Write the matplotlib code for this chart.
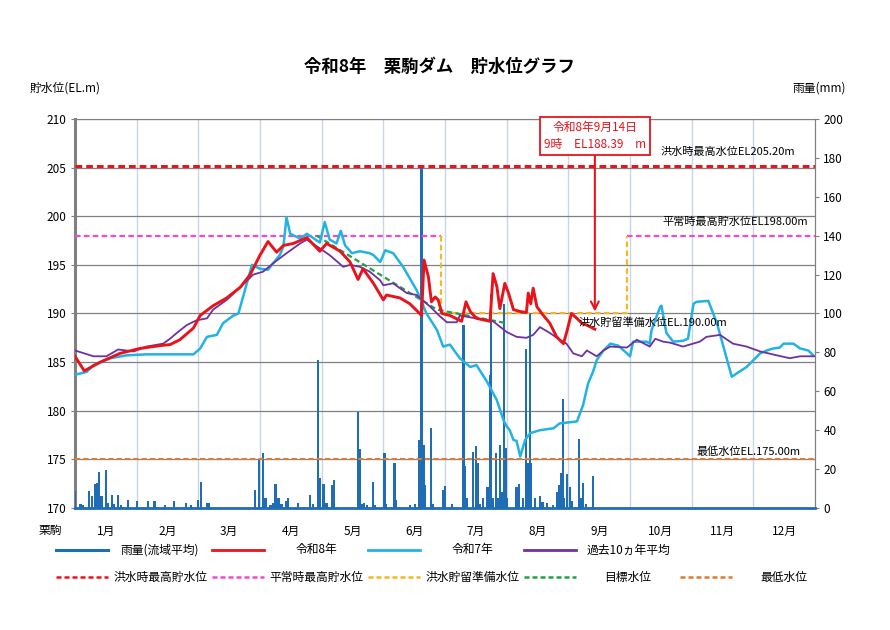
import matplotlib
matplotlib.use("Agg")
import matplotlib.pyplot as plt
import numpy as np

plt.rcParams['font.family'] = ['Noto Sans CJK JP', 'DejaVu Sans']

# x 軸は月単位 (0 = 1月1日, 12 = 12月末)
months = [f"{i}月" for i in range(1, 13)]

# 令和8年 貯水位
r8_x = [0.00, 0.15, 0.41, 0.73, 1.05, 1.38, 1.54, 1.70, 1.92, 2.03,
        2.24, 2.46, 2.68, 2.84, 3.00, 3.13, 3.27, 3.38, 3.54, 3.76,
        3.97, 4.08, 4.30, 4.46, 4.59, 4.67, 4.84, 5.00, 5.05, 5.27,
        5.43, 5.62, 5.66, 5.73, 5.78, 5.84, 5.89, 5.95, 6.08, 6.27,
        6.34, 6.41, 6.51, 6.73, 6.78, 6.84, 6.89, 6.97, 7.03, 7.11,
        7.22, 7.32, 7.35, 7.39, 7.43, 7.49, 7.57, 7.70, 7.81, 7.92,
        7.97, 8.05, 8.14, 8.22, 8.30, 8.43]
r8_el = [185.6, 184.1, 185.0, 185.9, 186.4, 186.7, 186.8, 187.3, 188.5, 189.8,
         190.8, 191.6, 192.7, 194.0, 196.0, 197.4, 196.3, 197.0, 197.2, 197.8,
         196.4, 197.2, 196.4, 195.3, 193.5, 194.6, 193.1, 191.4, 191.9, 191.6,
         191.0, 189.8, 195.5, 193.8, 191.2, 191.7, 191.4, 190.0, 189.8, 189.2,
         191.2, 190.2, 189.5, 189.2, 194.1, 192.8, 190.5, 193.1, 192.1, 190.4,
         190.2, 190.1, 192.1, 191.0, 192.6, 190.7, 190.0, 189.0, 187.6, 186.9,
         188.0, 190.0, 189.5, 189.0, 188.8, 188.39]

# 令和7年 貯水位
r7_x = [0.00, 0.19, 0.30, 0.57, 0.84, 1.16, 1.54, 1.92, 2.03, 2.14,
        2.30, 2.40, 2.57, 2.65, 2.87, 3.00, 3.13, 3.32, 3.38, 3.43,
        3.49, 3.65, 3.76, 3.97, 4.05, 4.13, 4.24, 4.31, 4.38, 4.49,
        4.62, 4.78, 4.84, 4.95, 5.03, 5.16, 5.32, 5.54, 5.70, 5.87,
        5.97, 6.08, 6.24, 6.41, 6.51, 6.68, 6.84, 6.95, 7.00, 7.05,
        7.11, 7.16, 7.22, 7.30, 7.38, 7.54, 7.76, 7.86, 8.14, 8.24,
        8.32, 8.40, 8.46, 8.57, 8.68, 8.81, 8.95, 9.00, 9.05, 9.27,
        9.32, 9.35, 9.49, 9.51, 9.59, 9.70, 9.86, 9.94, 10.03, 10.08,
        10.27, 10.41, 10.65, 10.89, 11.11, 11.22, 11.32, 11.43, 11.49, 11.65,
        11.76, 11.89, 11.97]
r7_el = [183.7, 184.0, 184.7, 185.4, 185.7, 185.8, 185.8, 185.8, 186.4, 187.6,
         187.8, 189.0, 189.8, 190.0, 195.0, 194.6, 194.5, 196.0, 196.9, 199.9,
         198.2, 197.7, 198.2, 197.3, 199.4, 197.6, 197.2, 198.5, 197.0, 196.2,
         196.4, 196.2, 196.0, 195.3, 196.5, 196.2, 194.8, 192.4, 190.0, 188.3,
         186.6, 186.8, 185.4, 184.5, 184.7, 183.0, 181.1, 179.0, 178.4, 178.0,
         177.0, 176.9, 175.3, 177.0, 177.7, 178.0, 178.2, 178.7, 178.9, 180.6,
         182.8, 184.0, 185.2, 186.2, 186.9, 186.7, 185.9, 185.6, 187.1, 187.1,
         186.9, 188.3, 190.7, 190.8, 188.0, 187.1, 187.2, 187.4, 191.0, 191.2,
         191.3, 189.0, 183.5, 184.5, 185.9, 186.2, 186.4, 186.5, 186.9, 186.9,
         186.4, 186.2, 185.7]

# 過去10ヵ年平均
avg_x = [0.00, 0.30, 0.51, 0.70, 0.95, 1.16, 1.43, 1.54, 1.65, 1.81,
         1.97, 2.14, 2.24, 2.46, 2.68, 2.89, 3.05, 3.22, 3.43, 3.65,
         3.76, 3.97, 4.13, 4.35, 4.46, 4.62, 4.78, 4.95, 5.00, 5.16,
         5.38, 5.54, 5.76, 5.92, 6.03, 6.19, 6.24, 6.41, 6.62, 6.78,
         7.00, 7.16, 7.32, 7.43, 7.54, 7.70, 7.86, 7.97, 8.08, 8.22,
         8.30, 8.46, 8.57, 8.68, 8.95, 9.11, 9.32, 9.41, 9.54, 9.65,
         9.86, 10.13, 10.24, 10.46, 10.67, 10.89, 11.11, 11.38, 11.59, 11.76,
         12.00]
avg_el = [186.2, 185.6, 185.6, 186.3, 186.1, 186.6, 186.9, 187.4, 188.0, 188.8,
          189.3, 189.5, 190.4, 191.4, 192.7, 194.0, 194.3, 195.2, 196.2, 197.2,
          197.6, 196.7, 196.0, 194.8, 195.0, 194.8, 194.3, 193.4, 192.9, 193.1,
          192.1, 191.9, 190.7, 189.7, 189.1, 189.1, 189.8, 189.6, 189.4, 189.2,
          188.1, 187.6, 187.5, 187.8, 188.6, 188.0, 187.3, 186.9, 185.9, 185.6,
          186.2, 185.6, 186.2, 186.6, 186.5, 187.3, 186.6, 187.4, 187.1, 187.0,
          186.6, 187.1, 187.6, 187.8, 186.9, 186.6, 186.1, 185.7, 185.4, 185.6,
          185.6]

# 目標水位
target_x = [3.92, 5.87, 7.00]
target_el = [198.0, 190.4, 189.0]

# 雨量(流域平均) mm
rain_x = [0.00, 0.09, 0.13, 0.23, 0.28, 0.32, 0.36, 0.39, 0.43, 0.50,
          0.54, 0.60, 0.63, 0.70, 0.75, 0.86, 1.01, 1.19, 1.29, 1.46,
          1.61, 1.80, 1.88, 2.00, 2.04, 2.14, 2.17, 2.92, 2.98, 3.05,
          3.09, 3.17, 3.22, 3.25, 3.30, 3.35, 3.43, 3.46, 3.61, 3.81,
          3.86, 3.94, 3.97, 4.03, 4.08, 4.17, 4.20, 4.59, 4.62, 4.65,
          4.69, 4.73, 4.83, 4.86, 5.02, 5.04, 5.18, 5.21, 5.43, 5.51,
          5.58, 5.62, 5.65, 5.68, 5.77, 5.81, 5.97, 6.00, 6.11, 6.30,
          6.32, 6.35, 6.46, 6.50, 6.53, 6.56, 6.62, 6.69, 6.73, 6.75,
          6.78, 6.83, 6.86, 6.89, 6.92, 6.96, 6.99, 7.01, 7.16, 7.20,
          7.26, 7.31, 7.34, 7.38, 7.40, 7.46, 7.54, 7.58, 7.65, 7.75,
          7.81, 7.85, 7.88, 7.91, 7.93, 7.98, 8.03, 8.05, 8.17, 8.20,
          8.24, 8.29, 8.40]
rain_mm = [8.5, 2, 1.5, 8.5, 6, 12.5, 13, 18.3, 6, 19.3,
           2.5, 6.5, 2, 6.5, 1.5, 4, 3.4, 3.4, 3.4, 1.5,
           3.4, 2.5, 1.5, 4, 13.4, 2.5, 2.5, 9.4, 25.3, 28.3,
           5, 1.5, 2.5, 12.5, 5, 2, 3.4, 5, 2.5, 6.5,
           2, 75.9, 15.4, 12.5, 2.5, 11.6, 14.2, 49.4, 30.5, 2,
           2.5, 1.5, 13.4, 1.5, 28.3, 2, 23, 4, 1.5, 2,
           35.1, 176, 32.5, 12, 41.1, 2, 9.4, 11.4, 2, 94,
           21.4, 5, 29, 32, 23, 2, 5, 11, 68.4, 110,
           5, 28.3, 5, 32.5, 8, 105, 30.8, 5, 11, 12.2,
           5, 81.5, 23, 100, 23, 5, 6, 3, 2.5, 1.5,
           8.2, 11.7, 18, 56, 5, 17.5, 11, 3.5, 35.5, 5,
           12.7, 2, 16.7]

flood_max = 205.2      # 洪水時最高水位
normal_max = 198.0     # 平常時最高貯水位
flood_ready = 190.0    # 洪水貯留準備水位
lowest = 175.0         # 最低水位
ready_start, ready_end = 5.93, 8.95

c_rain = '#1f6db5'
c_r8 = '#e8141c'
c_r7 = '#22b2e4'
c_avg = '#7030a0'
c_fmax = '#e8141c'
c_nmax = '#ee4ad2'
c_ready = '#f4b820'
c_target = '#22a04c'
c_low = '#e07b30'
grid_gray = '#808080'

# 左軸 EL 170-210m と 右軸 雨量 0-200mm の対応
el0, mm_per_m = 170.0, 5.0
def el_to_mm(v):
    return (v - el0) * mm_per_m
def mm_to_el(v):
    return el0 + v / mm_per_m

fig = plt.figure(figsize=(8.9, 6.3), dpi=100)
ax = fig.add_axes([75 / 890, 1 - 508 / 630, 740 / 890, 389 / 630])
ax.set_xlim(0, 12)
ax.set_ylim(170, 210)

# 雨量 (右軸の目盛りで描画)
ax.bar(rain_x, mm_to_el(np.array(rain_mm)) - el0, bottom=el0, width=0.036,
       color=c_rain, linewidth=0, antialiased=False, zorder=3)

# 基準水位
dash = (0, (2.5, 1.5))
ax.plot([0, 12], [flood_max, flood_max], color=c_fmax, lw=2.2,
        ls=(0, (2.2, 1.3)), zorder=4)
ax.plot([0, ready_start], [normal_max, normal_max], color=c_nmax, lw=1.6, ls=dash, zorder=4)
ax.plot([ready_end, 12], [normal_max, normal_max], color=c_nmax, lw=1.6, ls=dash, zorder=4)
ax.plot([ready_start, ready_start, ready_end, ready_end],
        [normal_max, flood_ready, flood_ready, normal_max],
        color=c_ready, lw=1.6, ls=dash, zorder=4)
ax.plot(target_x, target_el, color=c_target, lw=1.6, ls=dash, zorder=5)
ax.plot([0, 12], [lowest, lowest], color=c_low, lw=1.5, ls=dash, zorder=4)

ax.plot(r7_x, r7_el, color=c_r7, lw=1.8, zorder=6)
ax.plot(avg_x, avg_el, color=c_avg, lw=1.3, zorder=7)
ax.plot(r8_x, r8_el, color=c_r8, lw=2.1, zorder=8)

ax.set_yticks(np.arange(170, 211, 5))
sec = ax.secondary_yaxis('right', functions=(el_to_mm, mm_to_el))
sec.set_yticks(np.arange(0, 201, 20))

ax.set_xticks(np.arange(12) + 0.5)
ax.set_xticklabels(months)
ax.set_xticks(np.arange(1, 12), minor=True)
ax.tick_params(axis='x', which='both', length=0, pad=12, labelsize=8.5)
ax.tick_params(axis='y', length=3, width=0.8, color=grid_gray, pad=3, labelsize=8.5)
sec.tick_params(axis='y', length=3, width=0.8, color=grid_gray, pad=3, labelsize=8.5)

ax.grid(axis='x', which='minor', color='#c8d6e6', lw=1.0, zorder=0)
ax.grid(axis='y', which='major', color=grid_gray, lw=0.9, zorder=0)
ax.set_axisbelow(True)

ax.spines['top'].set_color(grid_gray)
ax.spines['right'].set_color(grid_gray)
ax.spines['left'].set_color(grid_gray)
ax.spines['left'].set_linewidth(2.2)
ax.spines['bottom'].set_color(c_rain)
ax.spines['bottom'].set_linewidth(2.0)
sec.spines['right'].set_color(grid_gray)

# 水位ラベル
ax.text(11.68, 206.6, "洪水時最高水位EL205.20m", ha='right', va='center', fontsize=8, zorder=9)
ax.text(11.89, 199.4, "平常時最高貯水位EL198.00m", ha='right', va='center', fontsize=8, zorder=9)
ax.text(8.16, 189.1, "洪水貯留準備水位EL.190.00m", ha='left', va='center', fontsize=8, zorder=9)
ax.text(11.76, 175.8, "最低水位EL.175.00m", ha='right', va='center', fontsize=8, zorder=9)

# 現在値
ax.annotate(f"令和8年9月14日\n9時　EL{r8_el[-1]:.2f}　m",
            xy=(r8_x[-1], flood_ready + 0.2), xytext=(r8_x[-1], 208.25),
            ha='center', va='center', color=c_r8, fontsize=8.5, linespacing=1.35,
            bbox=dict(boxstyle='square,pad=0.35', fc='white', ec=c_r8, lw=1.3),
            arrowprops=dict(arrowstyle='->', color=c_r8, lw=1.5,
                            shrinkA=0, shrinkB=0, mutation_scale=14),
            zorder=10)

fig.text(0.494, 1 - 67 / 630, "令和8年　栗駒ダム　貯水位グラフ", ha='center', va='center',
         fontsize=12.5, fontweight='bold')
fig.text(30 / 890, 1 - 88 / 630, "貯水位(EL.m)", ha='left', va='center', fontsize=8.5)
fig.text(846 / 890, 1 - 88 / 630, "雨量(mm)", ha='right', va='center', fontsize=8.5)
fig.text(50 / 890, 1 - 530 / 630, "栗駒", ha='center', va='center', fontsize=8.5)

# 凡例
leg = fig.add_axes([0, 0, 1, 1])
leg.set_xlim(0, 890)
leg.set_ylim(630, 0)
leg.axis('off')
row1 = [("雨量(流域平均)", c_rain, '-', 2.2), ("令和8年", c_r8, '-', 2.0),
        ("令和7年", c_r7, '-', 2.0), ("過去10ヵ年平均", c_avg, '-', 2.0)]
row2 = [("洪水時最高貯水位", c_fmax, (0, (2, 1.2)), 1.8), ("平常時最高貯水位", c_nmax, (0, (2, 1.2)), 1.8),
        ("洪水貯留準備水位", c_ready, (0, (2, 1.2)), 1.8), ("目標水位", c_target, (0, (2, 1.2)), 1.8),
        ("最低水位", c_low, (0, (2, 1.2)), 1.8)]
cell_w, key_w = 156, 52
for row, y in ((row1, 550), (row2, 577)):
    for i, (label, col, ls, lw) in enumerate(row):
        x0 = 56 + i * cell_w
        leg.plot([x0, x0 + key_w], [y, y], color=col, ls=ls, lw=lw)
        leg.text(x0 + key_w + (cell_w - key_w) / 2, y, label, ha='center', va='center', fontsize=8.5)

fig.savefig("out.png", dpi=100)
